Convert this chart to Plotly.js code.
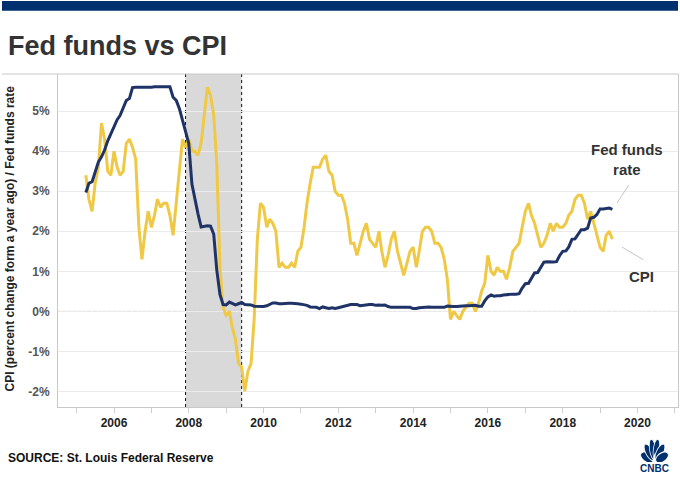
<!DOCTYPE html>
<html>
<head>
<meta charset="utf-8">
<script src="https://cdn.plot.ly/plotly-3.0.1.min.js"></script>
<style>
  html, body { margin: 0; padding: 0; background: #fff; }
  #chart { width: 680px; height: 482px; }
</style>
</head>
<body>
<div id="chart"></div>
<script>
// Monthly series, first observation April 2005, last May 2019.
const firstMonth = [2005, 4];

// CPI, percent change from a year ago
const cpi = [
  // 2005 (Apr-Dec)
  3.4, 2.8, 2.5, 3.2, 3.6, 4.7, 4.3, 3.5, 3.4,
  // 2006
  4.0, 3.6, 3.4, 3.5, 4.2, 4.3, 4.1, 3.8, 2.1, 1.3, 2.0, 2.5,
  // 2007
  2.1, 2.4, 2.8, 2.6, 2.7, 2.7, 2.4, 1.9, 2.8, 3.5, 4.3, 4.1,
  // 2008
  4.3, 4.0, 4.0, 3.9, 4.2, 5.0, 5.6, 5.4, 4.9, 3.7, 1.1, 0.1,
  // 2009
  -0.1, 0.0, -0.4, -0.7, -1.3, -1.4, -2.0, -1.5, -1.3, -0.2, 1.8, 2.7,
  // 2010
  2.6, 2.1, 2.3, 2.2, 2.0, 1.1, 1.2, 1.1, 1.1, 1.2, 1.1, 1.5,
  // 2011
  1.6, 2.1, 2.7, 3.2, 3.6, 3.6, 3.6, 3.8, 3.9, 3.5, 3.4, 3.0,
  // 2012
  2.9, 2.9, 2.7, 2.3, 1.7, 1.7, 1.4, 1.7, 2.0, 2.2, 1.8, 1.7,
  // 2013
  1.6, 2.0, 1.5, 1.1, 1.4, 1.8, 2.0, 1.5, 1.2, 0.9, 1.2, 1.5,
  // 2014
  1.6, 1.1, 1.5, 2.0, 2.1, 2.1, 2.0, 1.7, 1.7, 1.6, 1.3, 0.8,
  // 2015
  -0.2, 0.0, -0.1, -0.2, 0.0, 0.1, 0.2, 0.2, 0.0, 0.2, 0.5, 0.7,
  // 2016
  1.4, 1.0, 0.9, 1.1, 1.0, 1.0, 0.8, 1.1, 1.5, 1.6, 1.7, 2.1,
  // 2017
  2.5, 2.7, 2.4, 2.2, 1.9, 1.6, 1.7, 1.9, 2.2, 2.0, 2.2, 2.1,
  // 2018
  2.1, 2.2, 2.4, 2.5, 2.8, 2.9, 2.9, 2.7, 2.3, 2.5, 2.2, 1.9,
  // 2019 (Jan-May)
  1.6, 1.5, 1.9, 2.0, 1.8
];

// Fed funds rate, percent
const fedFunds = [
  // 2005 (Apr-Dec)
  2.97, 3.20, 3.24, 3.48, 3.73, 3.86, 4.03, 4.26, 4.43,
  // 2006
  4.57, 4.79, 4.89, 5.11, 5.27, 5.32, 5.59, 5.60, 5.60, 5.60, 5.60, 5.59,
  // 2007
  5.60, 5.61, 5.61, 5.60, 5.60, 5.60, 5.61, 5.35, 5.27, 5.07, 4.79, 4.52,
  // 2008
  4.20, 3.18, 2.78, 2.43, 2.11, 2.13, 2.14, 2.13, 1.93, 1.03, 0.42, 0.17,
  // 2009
  0.16, 0.23, 0.19, 0.16, 0.19, 0.22, 0.17, 0.17, 0.16, 0.13, 0.13, 0.13,
  // 2010
  0.12, 0.14, 0.17, 0.21, 0.21, 0.19, 0.19, 0.20, 0.20, 0.20, 0.20, 0.19,
  // 2011
  0.18, 0.17, 0.15, 0.11, 0.10, 0.10, 0.07, 0.11, 0.09, 0.07, 0.09, 0.07,
  // 2012
  0.09, 0.11, 0.14, 0.15, 0.17, 0.17, 0.17, 0.14, 0.15, 0.17, 0.17, 0.17,
  // 2013
  0.15, 0.16, 0.15, 0.16, 0.12, 0.10, 0.10, 0.09, 0.09, 0.10, 0.09, 0.10,
  // 2014
  0.07, 0.07, 0.09, 0.10, 0.10, 0.11, 0.10, 0.10, 0.10, 0.10, 0.10, 0.13,
  // 2015
  0.12, 0.12, 0.12, 0.13, 0.13, 0.14, 0.14, 0.15, 0.15, 0.13, 0.13, 0.26,
  // 2016
  0.36, 0.41, 0.38, 0.39, 0.39, 0.41, 0.42, 0.43, 0.43, 0.43, 0.44, 0.58,
  // 2017
  0.69, 0.70, 0.84, 0.96, 0.97, 1.11, 1.23, 1.24, 1.23, 1.23, 1.24, 1.39,
  // 2018
  1.50, 1.51, 1.61, 1.80, 1.81, 1.94, 2.04, 2.04, 2.08, 2.33, 2.35, 2.42,
  // 2019 (Jan-May)
  2.56, 2.56, 2.57, 2.58, 2.55
];

// Recession band (Dec 2007 - Jun 2009)
const recession = ['2007-12-01', '2009-06-01'];

// Axis ticks
const yTickVals = [-2, -1, 0, 1, 2, 3, 4, 5];
const yTickText = ['-2%', '-1%', '0%', '1%', '2%', '3%', '4%', '5%'];

// Text
const titleText = 'Fed funds vs CPI';
const yTitleText = 'CPI (percent change form a year ago) / Fed funds rate';
const sourceText = 'SOURCE: St. Louis Federal Reserve';
const fedLabel = 'Fed funds<br>rate';
const cpiLabel = 'CPI';
const logoText = 'CNBC';

function monthlyDates(start, n) {
  const out = [];
  let y = start[0], m = start[1];
  for (let i = 0; i < n; i++) {
    out.push(y + '-' + String(m).padStart(2, '0') + '-01');
    m++;
    if (m > 12) { m = 1; y++; }
  }
  return out;
}
const dates = monthlyDates(firstMonth, cpi.length);

// Page geometry (pixels) -> paper coordinates
const W = 680, H = 482;
const M = { l: 58, r: 2, t: 74, b: 75 };
const PW = W - M.l - M.r, PH = H - M.t - M.b;
const px = x => (x - M.l) / PW;
const py = y => (H - M.b - y) / PH;

const NAVY = '#00306e';
const FED_COLOR = '#1f3367';
const CPI_COLOR = '#efc945';
const FONT = 'Liberation Sans, Arial, Helvetica, sans-serif';

const traces = [
  {
    x: dates, y: cpi, type: 'scatter', mode: 'lines', name: 'CPI',
    line: { color: CPI_COLOR, width: 3 }, hoverinfo: 'x+y'
  },
  {
    x: dates, y: fedFunds, type: 'scatter', mode: 'lines', name: 'Fed funds rate',
    line: { color: FED_COLOR, width: 3 }, hoverinfo: 'x+y'
  }
];

// Peacock mark for the logo
function peacockSvg() {
  const angles = [-72, -43, -14, 14, 43, 72];
  let petals = '';
  angles.forEach(a => {
    const r = a * Math.PI / 180;
    const cx = 30 + 17 * Math.sin(r), cy = 33 - 17 * Math.cos(r);
    petals += `<ellipse cx='${cx.toFixed(2)}' cy='${cy.toFixed(2)}' rx='6.5' ry='14' transform='rotate(${a} ${cx.toFixed(2)} ${cy.toFixed(2)})' fill='${NAVY}' stroke='#fff' stroke-width='1.6'/>`;
  });
  const body = `<path d='M26.5 34 L30 21 L33.5 34 Z' fill='#fff'/>`;
  const svg = `<svg xmlns='http://www.w3.org/2000/svg' width='60' height='34' viewBox='0 0 60 34' preserveAspectRatio='none'>${petals}${body}</svg>`;
  return 'data:image/svg+xml;charset=utf-8,' + encodeURIComponent(svg);
}

const layout = {
  width: W, height: H,
  margin: { l: M.l, r: M.r, t: M.t, b: M.b, pad: 0 },
  paper_bgcolor: '#ffffff',
  plot_bgcolor: '#ffffff',
  showlegend: false,
  font: { family: FONT, color: '#222' },
  xaxis: {
    type: 'date',
    range: ['2004-07-03', '2021-01-31'],
    tick0: '2006-01-01', dtick: 'M24', tickformat: '%Y',
    showgrid: false, zeroline: false,
    showline: true, linecolor: '#c8c8c8', linewidth: 1,
    ticks: 'outside', ticklen: 5, tickcolor: '#cfcfcf', tickwidth: 1,
    minor: { dtick: 'M12', ticks: 'outside', ticklen: 5, tickcolor: '#cfcfcf', showgrid: false },
    tickfont: { family: FONT, size: 12, color: '#222', weight: 'bold' },
    fixedrange: true
  },
  yaxis: {
    range: [-2.39, 5.93],
    tickmode: 'array', tickvals: yTickVals, ticktext: yTickText,
    showgrid: true, gridcolor: '#ebebeb', gridwidth: 1,
    zeroline: false,
    showline: true, linecolor: '#c8c8c8', linewidth: 1, mirror: true,
    ticks: 'outside', ticklen: 5, tickcolor: 'rgba(0,0,0,0)',
    tickfont: { family: FONT, size: 12, color: '#555', weight: 'bold' },
    fixedrange: true
  },
  shapes: [
    // recession band
    { type: 'rect', xref: 'x', yref: 'paper', x0: recession[0], x1: recession[1], y0: 0, y1: 1,
      fillcolor: '#d9d9d9', line: { width: 0 }, layer: 'below' },
    { type: 'line', xref: 'x', yref: 'paper', x0: recession[0], x1: recession[0], y0: 0, y1: 1,
      line: { color: '#111', width: 1, dash: 'dot' }, layer: 'below' },
    { type: 'line', xref: 'x', yref: 'paper', x0: recession[1], x1: recession[1], y0: 0, y1: 1,
      line: { color: '#111', width: 1, dash: 'dot' }, layer: 'below' },
    // dashed zero line
    { type: 'line', xref: 'paper', yref: 'y', x0: 0, x1: 1, y0: 0, y1: 0,
      line: { color: '#bdbdbd', width: 1, dash: '3px,2px' }, layer: 'below' },
    // rule under the headline
    { type: 'line', xref: 'paper', yref: 'paper', x0: px(2), x1: px(678), y0: 1, y1: 1,
      line: { color: '#c8c8c8', width: 1 }, layer: 'above' },
    // navy band at the very top
    { type: 'rect', xref: 'paper', yref: 'paper', x0: px(2), x1: px(678), y0: py(10.7), y1: py(1),
      fillcolor: NAVY, line: { width: 0 }, layer: 'above' },
    // label leader lines
    { type: 'line', xref: 'paper', yref: 'paper', x0: px(628.8), y0: py(185.1), x1: px(617), y1: py(203),
      line: { color: '#c4c4c4', width: 1 }, layer: 'above' },
    { type: 'line', xref: 'paper', yref: 'paper', x0: px(622), y0: py(247.1), x1: px(643.4), y1: py(259.7),
      line: { color: '#c4c4c4', width: 1 }, layer: 'above' }
  ],
  annotations: [
    { text: '<b>' + titleText + '</b>', xref: 'paper', yref: 'paper', x: px(6), y: py(46),
      xanchor: 'left', yanchor: 'middle', showarrow: false,
      font: { family: FONT, size: 27, color: '#333' } },
    { text: '<b>' + yTitleText + '</b>', xref: 'paper', yref: 'paper', x: px(9.5), y: py(239),
      xanchor: 'center', yanchor: 'middle', textangle: -90, showarrow: false,
      font: { family: FONT, size: 12, color: '#222' } },
    { text: '<b>' + fedLabel + '</b>', xref: 'paper', yref: 'paper', x: px(627.3), y: py(159),
      xanchor: 'center', yanchor: 'middle', align: 'center', showarrow: false,
      font: { family: FONT, size: 15, color: '#333' } },
    { text: '<b>' + cpiLabel + '</b>', xref: 'paper', yref: 'paper', x: px(641.4), y: py(276.6),
      xanchor: 'center', yanchor: 'middle', showarrow: false,
      font: { family: FONT, size: 15, color: '#333' } },
    { text: '<b>' + sourceText + '</b>', xref: 'paper', yref: 'paper', x: px(6), y: py(458),
      xanchor: 'left', yanchor: 'middle', showarrow: false,
      font: { family: FONT, size: 12, color: '#111' } },
    { text: '<b>' + logoText + '</b>', xref: 'paper', yref: 'paper', x: px(654.5), y: py(468),
      xanchor: 'center', yanchor: 'middle', showarrow: false,
      font: { family: FONT, size: 10, color: NAVY } }
  ],
  images: [
    { source: peacockSvg(), xref: 'paper', yref: 'paper', x: px(640.5), y: py(437),
      sizex: 28 / PW, sizey: 25 / PH, xanchor: 'left', yanchor: 'top',
      sizing: 'stretch', layer: 'above' }
  ]
};

Plotly.newPlot('chart', traces, layout, { displayModeBar: false, staticPlot: true });
</script>
</body>
</html>
